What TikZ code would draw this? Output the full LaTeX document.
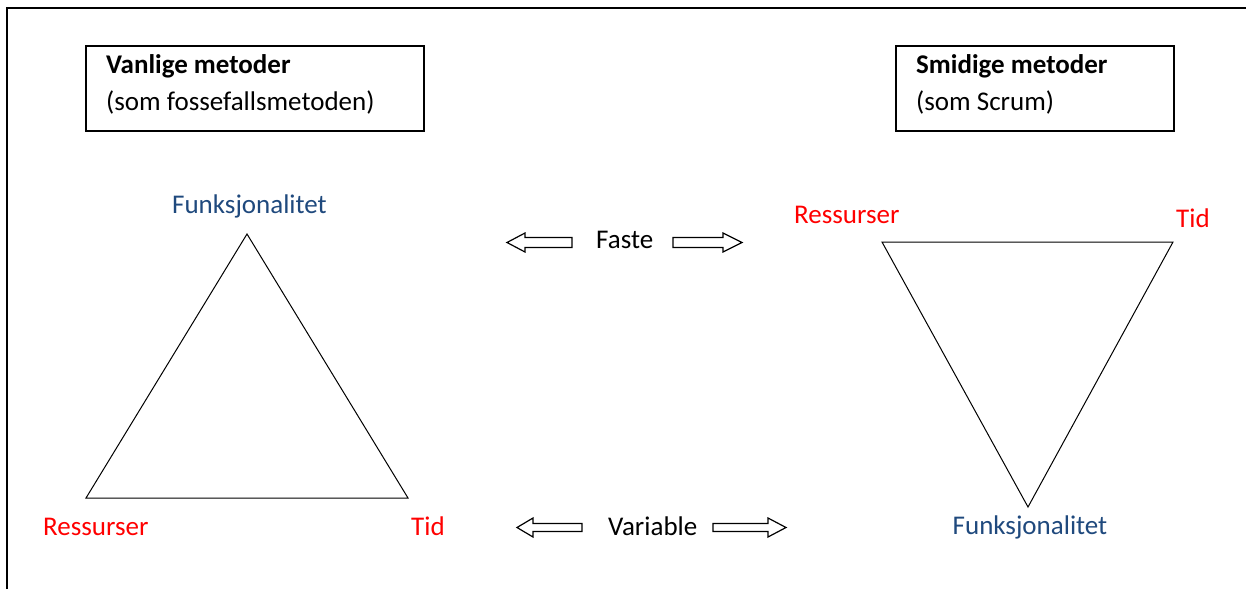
\documentclass[tikz,border=0pt]{standalone}
\usepackage{fontspec}
\setmainfont{Carlito}
\definecolor{fixred}{RGB}{255,0,0}
\definecolor{varblue}{RGB}{31,73,125}
\begin{document}
\begin{tikzpicture}[x=1pt,y=-1pt,
  lbl/.style={inner sep=0pt,font=\fontsize{27}{32}\selectfont},
  title/.style={inner sep=0pt,anchor=base west,font=\fontsize{27}{32}\selectfont\bfseries},
  sub/.style={inner sep=0pt,anchor=base west,font=\fontsize{27}{32}\selectfont},
  box/.style={draw,line width=1.4pt},
  tri/.style={draw,line width=1pt,line join=miter},
  blk/.style={draw,line width=1.2pt,line join=miter}]
\useasboundingbox (0,0) rectangle (1246,589);
% outer frame (only top and left edges fall inside the picture)
\draw[line width=1.6pt] (7,589) -- (7,8) -- (1246,8);

% method boxes
\draw[box] (86,46) rectangle (424,131);
\node[title] (vtitle) at (106,73) {Vanlige metoder};
\node[sub] (vsub) at (106,110) {(som fossefallsmetoden)};
\draw[box] (896,46) rectangle (1174,131);
\node[title] (stitle) at (916,73) {Smidige metoder};
\node[sub] (ssub) at (916,110) {(som Scrum)};

% traditional triangle
\coordinate (ltop) at (247,234);
\coordinate (lbl) at (86,498);
\coordinate (lbr) at (408,498);
\draw[tri] (ltop) -- (lbl) -- (lbr) -- cycle;
\node[lbl,anchor=base,text=varblue] (lfunk) at (249.5,213) {Funksjonalitet};
\node[lbl,anchor=base west,text=fixred] (lres) at (43,535) {Ressurser};
\node[lbl,anchor=base west,text=fixred] (ltid) at (411,535) {Tid};

% agile triangle
\coordinate (rtl) at (882,242);
\coordinate (rtr) at (1173,242);
\coordinate (rbot) at (1028,507);
\draw[tri] (rtl) -- (rtr) -- (rbot) -- cycle;
\node[lbl,anchor=base west,text=fixred] (rres) at (794,223) {Ressurser};
\node[lbl,anchor=base west,text=fixred] (rtid) at (1176,227) {Tid};
\node[lbl,anchor=base,text=varblue] (rfunk) at (1030,534) {Funksjonalitet};

% middle labels with block arrows
\node[lbl,anchor=base west] (faste) at (596,248) {Faste};
\node[lbl,anchor=base west] (variable) at (608,535) {Variable};

\draw[blk] (572,237.5) -- (525,237.5) -- (525,233) -- (507,242.5) -- (525,252) -- (525,247.5) -- (572,247.5) -- cycle;
\draw[blk] (673,237.5) -- (723,237.5) -- (723,233) -- (742,242.5) -- (723,252) -- (723,247.5) -- (673,247.5) -- cycle;
\draw[blk] (582,523.5) -- (533,523.5) -- (533,518) -- (517,527.5) -- (533,537) -- (533,531.5) -- (582,531.5) -- cycle;
\draw[blk] (713,523.5) -- (768,523.5) -- (768,518) -- (786,527.5) -- (768,537) -- (768,531.5) -- (713,531.5) -- cycle;
\end{tikzpicture}
\end{document}
